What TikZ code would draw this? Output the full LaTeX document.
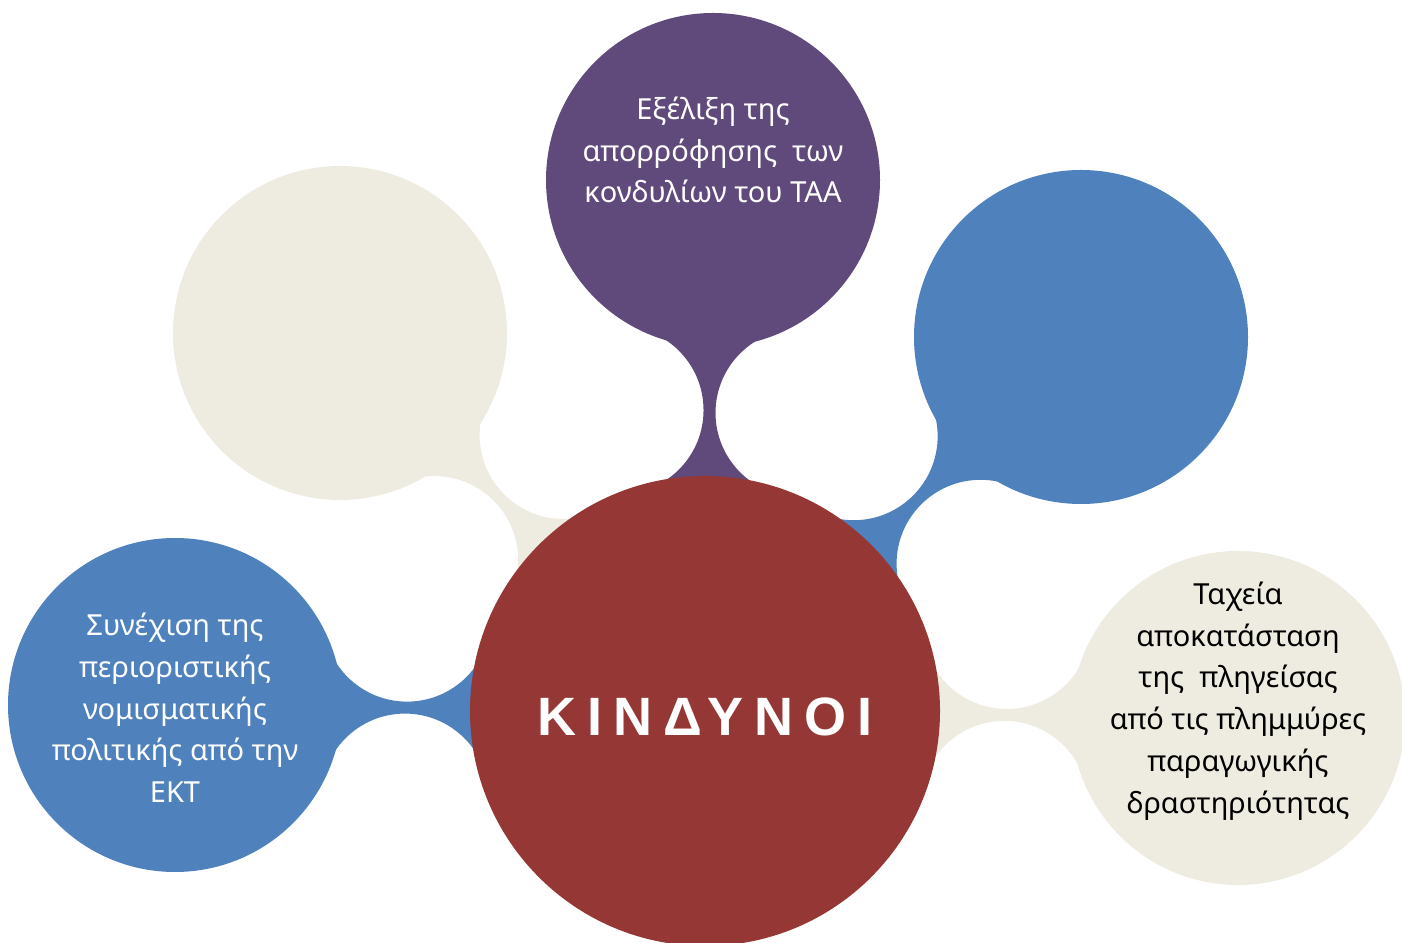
\documentclass[tikz,border=0pt]{standalone}
\usepackage{fontspec}
\setmainfont{Noto Sans}
\newfontfamily\spacedfont[LetterSpace=20]{Liberation Sans}
\usepackage{tikz}
\usetikzlibrary{calc, backgrounds}
\usepackage{xcolor}
\definecolor{riskRed}{RGB}{149, 55, 53}
\definecolor{purpleBg}{RGB}{96, 74, 123}
\definecolor{blueBg}{RGB}{79, 129, 189}
\definecolor{beigeBg}{RGB}{238, 236, 225}

\begin{document}
\begin{tikzpicture}[x=1pt, y=1pt,
    bubble/.style={circle, minimum size=334pt, inner sep=0pt},
    note/.style={align=center, font=\fontsize{29}{41.7}\selectfont}]
  \useasboundingbox (0,0) rectangle (1402,942);

  % outer bubbles
  \node[bubble, fill=purpleBg] (purp) at (713,762) {};
  \node[bubble, fill=beigeBg] (tlb) at (340,609) {};
  \node[bubble, fill=blueBg] (trb) at (1081,605) {};
  \node[bubble, fill=blueBg] (lb) at (175,237) {};
  \node[bubble, fill=beigeBg] (rb) at (1238,224) {};

  % central circle
  \node[circle, minimum size=470pt, inner sep=0pt, fill=riskRed,
        text=white, font={\spacedfont\bfseries\fontsize{54}{60}\selectfont}]
        (core) at (705,231) {\raisebox{-10pt}[29pt][0pt]{ΚΙΝΔΥΝΟΙ}};

  % texts
  \node[note, text=white] (purptxt) at ([yshift=30pt]purp) {Εξέλιξη της\\απορρόφησης~ των\\κονδυλίων του ΤΑΑ};
  \node[note, text=white] (lbtxt) at ([yshift=-3pt]lb) {Συνέχιση της\\περιοριστικής\\νομισματικής\\πολιτικής από την\\ΕΚΤ};
  \node[note, text=black] (rbtxt) at ([yshift=17pt]rb) {Ταχεία\\αποκατάσταση\\της~ πληγείσας\\από τις πλημμύρες\\παραγωγικής\\δραστηριότητας};

  % necks
  \begin{scope}[on background layer]
    \foreach \bub/\col in {purp/purpleBg, tlb/beigeBg, trb/blueBg, lb/blueBg, rb/beigeBg}{
      \begin{scope}
        \clip ($(\bub)!60pt!90:(core)$) -- ($(\bub)!60pt!-90:(core)$)
          -- ($(core)!60pt!90:(\bub)$) -- ($(core)!60pt!-90:(\bub)$) -- cycle;
        \coordinate (mid) at ($($(\bub)!0.5!(core)$)!34pt!(\bub)$);
        \fill[\col, even odd rule] ($(\bub)!70pt!90:(core)$) -- ($(\bub)!70pt!-90:(core)$)
          -- ($(core)!70pt!90:(\bub)$) -- ($(core)!70pt!-90:(\bub)$) -- cycle
          ($(mid)!90pt!90:(core)$) circle[radius=84pt]
          ($(mid)!90pt!-90:(core)$) circle[radius=84pt];
      \end{scope}
    }
  \end{scope}
\end{tikzpicture}
\end{document}
